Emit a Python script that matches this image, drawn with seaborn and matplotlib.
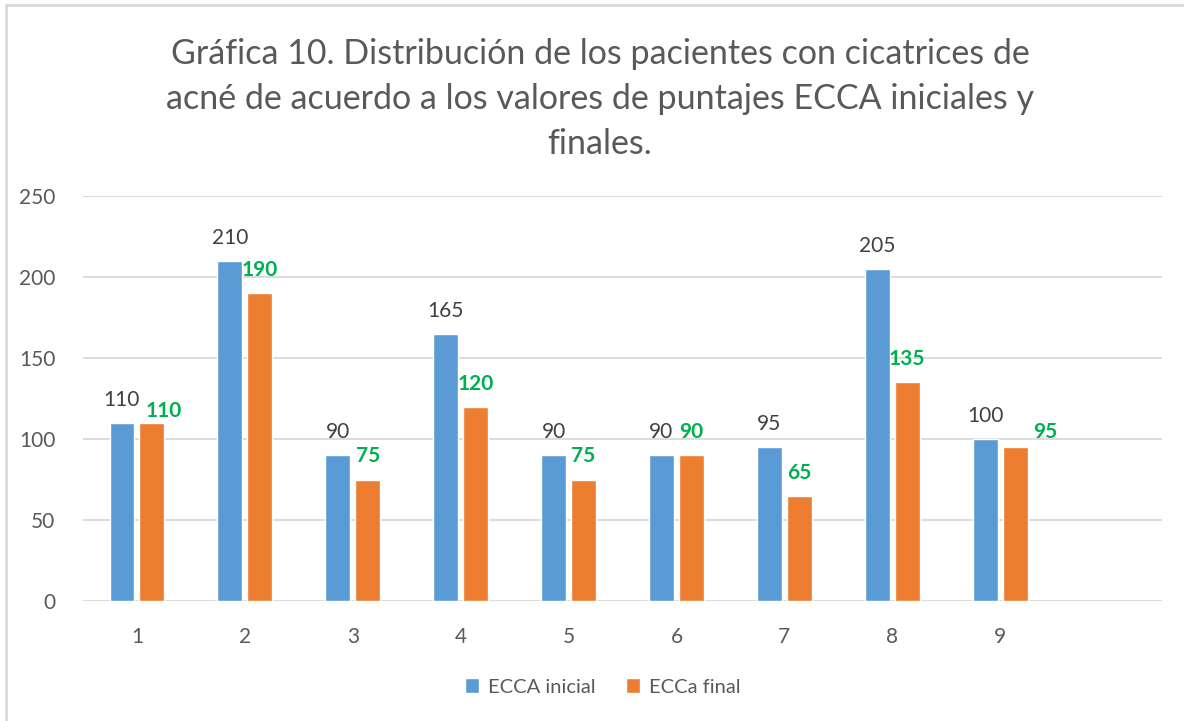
import matplotlib
matplotlib.use("Agg")
import matplotlib.pyplot as plt
from matplotlib.lines import Line2D
import seaborn as sns
import pandas as pd
import numpy as np

# chart values (10th slot is empty in the original chart)
categories = ["1", "2", "3", "4", "5", "6", "7", "8", "9", ""]
ecca_inicial = [110, 210, 90, 165, 90, 90, 95, 205, 100, np.nan]
ecca_final = [110, 190, 75, 120, 75, 90, 65, 135, 95, np.nan]
series_names = ["ECCA inicial", "ECCa final"]

# label nudges (pixels) for the green labels that were moved by hand
final_label_nudge = [(12, -11), (0, 0), (0, 0), (0, 0), (0, 0),
                     (0, 0), (0, 0), (0, 0), (30, -8), (0, 0)]

df = pd.DataFrame({
    "cat": categories * 2,
    "value": ecca_inicial + ecca_final,
    "serie": [series_names[0]] * len(categories) + [series_names[1]] * len(categories),
})

sns.set_style("white")
plt.rcParams["font.family"] = ["Lato", "DejaVu Sans"]

blue = "#5b9bd5"
orange = "#ed7d31"
green = "#00b050"
gray_txt = "#595959"
grid_col = "#d9d9d9"

fig = plt.figure(figsize=(11.84, 7.21), dpi=100)
ax = fig.add_axes([83 / 1184, 1 - 601 / 721, (1162 - 83) / 1184, (601 - 196) / 721])

sns.barplot(data=df, x="cat", y="value", hue="serie", order=categories,
            palette=[blue, orange], width=0.556, gap=0.17, ax=ax,
            saturation=1, legend=True, zorder=3)

ax.set_ylim(0, 250)
ax.set_yticks(range(0, 251, 50))
ax.set_xlim(-0.5, len(categories) - 0.5)
ax.yaxis.grid(True, color=grid_col, linewidth=1.3, zorder=0)
ax.set_axisbelow(True)
for s in ax.spines.values():
    s.set_visible(False)
ax.set_xlabel("")
ax.set_ylabel("")
ax.tick_params(axis="both", length=0, labelsize=15, labelcolor=gray_txt)
ax.tick_params(axis="x", pad=19)
ax.tick_params(axis="y", pad=20)

# data labels
for i, cont in enumerate(ax.containers):
    for j, bar in enumerate(cont):
        h = bar.get_height()
        if np.isnan(h):
            continue
        x = bar.get_x() + bar.get_width() / 2
        if i == 0:
            ax.annotate(f"{int(h)}", (x, h), xytext=(0, 23), textcoords="offset pixels",
                        ha="center", va="center", fontsize=15, color="#404040")
        else:
            dx, dy = final_label_nudge[j]
            ax.annotate(f"{int(h)}", (x, h), xytext=(dx, 23 + dy), textcoords="offset pixels",
                        ha="center", va="center", fontsize=15, color=green,
                        fontweight="bold")

handles, labels = ax.get_legend_handles_labels()
ax.legend_.remove()
fig.legend(handles, labels, loc="center", bbox_to_anchor=(603 / 1184, 1 - 687 / 721),
           ncol=2, frameon=False, fontsize=14.5, labelcolor=gray_txt,
           handlelength=0.7, handleheight=0.7, handletextpad=0.45, columnspacing=1.5)

fig.text(600 / 1184, 1 - 99 / 721,
         "Gráfica 10. Distribución de los pacientes con cicatrices de\n"
         "acné de acuerdo a los valores de puntajes ECCA iniciales y\n"
         "finales.",
         ha="center", va="center", fontsize=24.5, color=gray_txt, linespacing=1.5)

# chart frame lines (left and top only visible)
fig.add_artist(Line2D([6 / 1184, 6 / 1184], [0, 1 - 5 / 721], color=grid_col, linewidth=2))
fig.add_artist(Line2D([6 / 1184, 1], [1 - 5 / 721, 1 - 5 / 721], color=grid_col, linewidth=2))

fig.savefig("out.png", dpi=100, facecolor="white")
